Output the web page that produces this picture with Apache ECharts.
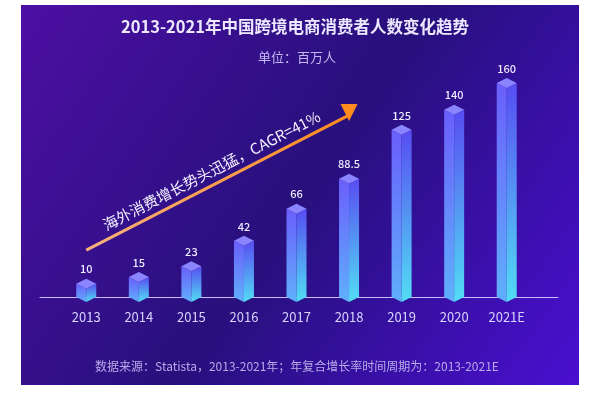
<!DOCTYPE html>
<html>
<head>
<meta charset="utf-8">
<script src="https://cdn.jsdelivr.net/npm/echarts@6/dist/echarts.min.js"></script>
<style>
html,body{margin:0;padding:0;background:#fff;}
#c{width:600px;height:394px;}
</style>
</head>
<body>
<div id="c"></div>
<script>
var categories = ['2013','2014','2015','2016','2017','2018','2019','2020','2021E'];
var consumers = [10, 15, 23, 42, 66, 88.5, 125, 140, 160];
var titleText = '2013-2021年中国跨境电商消费者人数变化趋势';
var subtitleText = '单位：百万人';
var sourceText = '数据来源：Statista，2013-2021年；年复合增长率时间周期为：2013-2021E';
var arrowText = '海外消费增长势头迅猛，CAGR=41%';
var arrowStart = ['2013', 35];
var arrowEnd = ['2018', 136];
var arrowHead = ['2018', 138];

var FONT = '"Noto Sans CJK SC","Noto Sans",sans-serif';
var chart = echarts.init(document.getElementById('c'), null, {renderer:'canvas'});

function grad(c1, c2){
  return new echarts.graphic.LinearGradient(0,0,0,1,[{offset:0,color:c1},{offset:1,color:c2}]);
}

var option = {
  backgroundColor: '#ffffff',
  animation: false,
  graphic: [
    {type:'rect', z:-10, shape:{x:21,y:5,width:558,height:380},
     style:{fill:new echarts.graphic.LinearGradient(0,0,1,1,[
       {offset:0,color:'#4d0fa4'},{offset:0.5,color:'#27107c'},{offset:1,color:'#4a0fd0'}])}},
    {type:'text', z:5, style:{x:295, y:27, text:titleText, textAlign:'center', textVerticalAlign:'middle',
      fill:'#ece8ff', font:'bold 16.5px ' + FONT}},
    {type:'text', z:5, style:{x:297, y:57, text:subtitleText, textAlign:'center', textVerticalAlign:'middle',
      fill:'#c4b8f2', font:'13px ' + FONT}},
    {type:'text', z:5, style:{x:297, y:366, text:sourceText, textAlign:'center', textVerticalAlign:'middle',
      fill:'#b8aaea', font:'12px ' + FONT}}
  ],
  grid: [
    {left:60, right:67, top:83, bottom:97},
    {left:40, right:42, top:83, bottom:97}
  ],
  xAxis: [
    {type:'category', gridIndex:0, data:categories, boundaryGap:true,
     axisLine:{show:false}, axisTick:{show:false},
     axisLabel:{color:'#d8d4ff', fontSize:13, margin:14, fontFamily:FONT}},
    {type:'value', gridIndex:1, min:0, max:1, show:true,
     axisLine:{show:true, lineStyle:{color:'#c8bcff', width:1}},
     axisTick:{show:false}, axisLabel:{show:false}, splitLine:{show:false}}
  ],
  yAxis: [
    {type:'value', gridIndex:0, min:0, max:160, show:false},
    {type:'value', gridIndex:1, min:0, max:1, show:false}
  ],
  series: [
    {
      type:'custom', xAxisIndex:0, yAxisIndex:0, z:3,
      data: consumers.map(function(v,i){return [i, v];}),
      renderItem: function(params, api){
        var idx = api.value(0), val = api.value(1);
        var p = api.coord([idx, val]);
        var b = api.coord([idx, 0]);
        var cx = p[0], top = p[1], base = b[1];
        var w = 10, h = 5;
        var lab = String(consumers[params.dataIndex]);
        return {
          type:'group',
          children:[
            {type:'polygon', shape:{points:[[cx-w,top],[cx,top+h],[cx,base+h],[cx-w,base]]},
             style:{fill:grad('#6a5efb','#5fb0fb')}},
            {type:'polygon', shape:{points:[[cx,top+h],[cx+w,top],[cx+w,base],[cx,base+h]]},
             style:{fill:grad('#574cf2','#52def4')}},
            {type:'polygon', shape:{points:[[cx,top-h],[cx+w,top],[cx,top+h],[cx-w,top]]},
             style:{fill:'#8a84ff'}},
            {type:'text', style:{x:cx, y:top-h-4, text:lab, textAlign:'center', textVerticalAlign:'bottom',
             fill:'#ecebff', font:'500 11px ' + FONT}}
          ]
        };
      }
    },
    {
      type:'line', xAxisIndex:0, yAxisIndex:0, data:[], z:4,
      markLine:{
        silent:true, symbol:['none','none'], animation:false,
        lineStyle:{type:'solid', width:3,
          color:new echarts.graphic.LinearGradient(0,0,1,0,[{offset:0,color:'#f5b27e'},{offset:1,color:'#ff8c1c'}])},
        label:{show:true, position:'insideMiddleTop', distance:6, formatter:arrowText,
          color:'#f2f0ff', fontSize:15, fontFamily:FONT},
        data:[[{coord:arrowStart},{coord:arrowEnd}]]
      },
      markPoint:{
        silent:true, animation:false,
        symbol:'triangle', symbolSize:[17,17], symbolRotate:180,
        itemStyle:{color:'#ff8c1c'},
        label:{show:false},
        data:[{coord:arrowHead}]
      }
    }
  ]
};
chart.setOption(option);
</script>
</body>
</html>
